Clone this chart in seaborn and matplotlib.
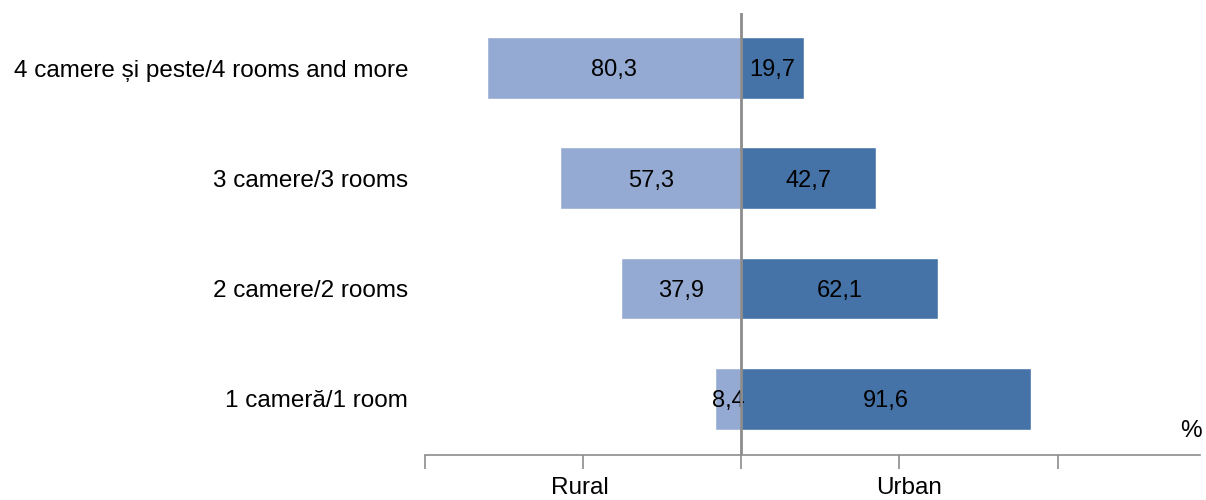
import matplotlib
matplotlib.use("Agg")
import matplotlib.pyplot as plt
import seaborn as sns
import pandas as pd

categories = ["4 camere și peste/4 rooms and more", "3 camere/3 rooms",
              "2 camere/2 rooms", "1 cameră/1 room"]
rural = [80.3, 57.3, 37.9, 8.4]
urban = [19.7, 42.7, 62.1, 91.6]
tick_values = [-100, -50, 0, 50, 100]

sns.set_theme(style="white")
plt.rcParams['font.family'] = ['Liberation Sans', 'DejaVu Sans']

fig = plt.figure(figsize=(12.06, 5.0), dpi=100)
ax = fig.add_axes([425/1206, 1-455/500, 775/1206, (455-13)/500])

df_r = pd.DataFrame({"cat": categories, "val": [-v for v in rural]})
df_u = pd.DataFrame({"cat": categories, "val": urban})
sns.barplot(data=df_r, x="val", y="cat", orient="h", color="#95AAD2",
            saturation=1, width=0.56, ax=ax)
sns.barplot(data=df_u, x="val", y="cat", orient="h", color="#4573A7",
            saturation=1, width=0.56, ax=ax)

for i, (r, u) in enumerate(zip(rural, urban)):
    ax.text(-r/2, i + 0.02, f"{r:.1f}".replace(".", ","), ha="center", va="center",
            fontsize=17, color="black")
    ax.text(u/2, i + 0.02, f"{u:.1f}".replace(".", ","), ha="center", va="center",
            fontsize=17, color="black")

ax.axvline(0, color="#8C8C8C", lw=2, zorder=5)
ax.set_xlim(-100, 145)
ax.set_ylim(3.51, -0.5)
ax.set_xticks(tick_values)
ax.set_xticklabels([])
ax.tick_params(axis="x", direction="out", length=10, width=1.2, color="#8C8C8C", bottom=True)
ax.tick_params(axis="y", length=0, pad=12, labelsize=17.5, labelcolor="black")
for s in ["top", "right", "left"]:
    ax.spines[s].set_visible(False)
ax.spines["bottom"].set_color("#8C8C8C")
ax.spines["bottom"].set_linewidth(1.2)
ax.set_xlabel("")
ax.set_ylabel("")

xt = ax.get_xaxis_transform()
ax.text(-51, -0.075, "Rural", transform=xt, ha="center", va="center", fontsize=17.5, color="black")
ax.text(53, -0.075, "Urban", transform=xt, ha="center", va="center", fontsize=17.5, color="black")
ax.text(142, 0.055, "%", transform=xt, ha="center", va="center", fontsize=17.5, color="black")

fig.savefig("out.png", dpi=100)
